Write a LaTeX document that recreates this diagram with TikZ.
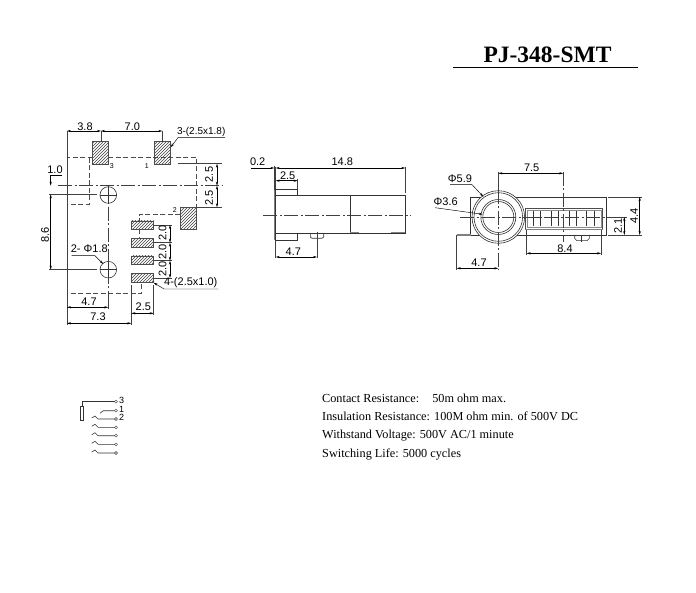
\documentclass[tikz,border=0pt]{standalone}
\usepackage{fontspec}
\setmainfont{Liberation Sans}
\newfontfamily\serifface{Liberation Serif}
\usetikzlibrary{arrows.meta,patterns}
\begin{document}
\begin{tikzpicture}[x=1pt,y=-1pt]
        \tikzstyle{dim}=[draw=black, line width=.45pt, {Stealth[length=4pt,width=2.2pt]}-{Stealth[length=4pt,width=2.2pt]}]
        \tikzstyle{lead}=[draw=black, line width=.45pt, -{Stealth[length=4pt,width=2.2pt]}]
        \tikzstyle{ext}=[draw=black!75, line width=.45pt]
        \tikzstyle{hid}=[draw=black!70, line width=.5pt, dash pattern=on 5pt off 2.5pt]
        \tikzstyle{axis}=[draw=black!75, line width=.5pt, dash pattern=on 14pt off 2.5pt on 2pt off 2.5pt]
        \tikzstyle{solid line}=[draw=black!80, line width=.6pt]
        \tikzstyle{heavy}=[draw=black!50, line width=1.4pt]
        \tikzstyle{padbox}=[draw=black!70, line width=.5pt, pattern=north east lines, pattern color=black!75]
        \tikzstyle{lbl}=[inner sep=0pt, font=\fontsize{11}{11}\selectfont]
        \tikzstyle{tiny}=[inner sep=0pt, font=\fontsize{7}{7}\selectfont]
        \tikzstyle{pinno}=[inner sep=0pt, font=\fontsize{9}{9}\selectfont]
        \tikzstyle{pin}=[draw=black!80, circle, inner sep=0pt, minimum width=3pt]
        \tikzstyle{spec}=[inner sep=0pt, anchor=base west, font=\serifface\fontsize{12.25}{12.25}\selectfont]

        \useasboundingbox (0,0) rectangle (696,593);

        % title
        \node[inner sep=0pt, font=\serifface\bfseries\fontsize{23.5}{23.5}\selectfont] (title) at (547.5,55) {PJ-348-SMT};
        \draw[black, line width=1.6pt] (453.3,67.7) -- (637.7,67.7);

        % left view: outline
        \draw[hid] (108,157.7) -- (196.7,157.7) -- (196.7,207.3);
        \draw[hid] (92.7,157.7) -- (67,157.7) -- (67,293.3) -- (141.7,293.3) -- (141.7,282.3);
        \draw[hid] (89.3,157.7) -- (89.3,204.3) -- (67,204.3);
        \draw[hid] (180.3,214.7) -- (139,214.7) -- (139,221);
        \draw[hid] (139,229.3) -- (139,238);
        \draw[axis] (58,185.7) -- (222,185.7);
        \draw[axis] (108.3,185.7) -- (108.3,293.3);

        % left view: pads
        \draw[padbox] (92.7,141.7) rectangle (108.7,164.3);
        \draw[padbox] (154.3,141.7) rectangle (170.3,164.3);
        \draw[padbox] (180.3,207.3) rectangle (196.7,229.7);
        \foreach \ytop in {221,238.5,256,273.7}
            \draw[padbox] (131.3,\ytop) rectangle (153.7,\ytop+8.6);
        \node[tiny] (padc) at (111.7,166) {3};
        \node[tiny] (pada) at (146.7,165.7) {1};
        \node[tiny] (padb) at (174.7,210) {2};

        % left view: holes
        \foreach \yc in {195,269.7} {
            \draw[solid line] (108.3,\yc) circle (8.3);
            \draw[solid line] (100,\yc) -- (116.6,\yc);
            \draw[solid line] (108.3,\yc-8.3) -- (108.3,\yc+8.3);
        }

        % left view: dimensions
        \draw[ext] (67,131) -- (67,325);
        \draw[ext] (101,131) -- (101,141.7);
        \draw[ext] (162.3,131) -- (162.3,141.7);
        \draw[dim] (67,131) -- (101,131);
        \draw[dim] (101,131) -- (162.3,131);
        \node[lbl] (topa) at (85,126.5) {3.8};
        \node[lbl] (topb) at (132.3,126.5) {7.0};
        \node[lbl, anchor=west, font=\fontsize{10}{10}\selectfont] (padnote) at (176.8,131.5) {3-(2.5x1.8)};
        \draw[lead] (225,137.3) -- (178.3,137.3) -- (170.7,147.3);

        \draw[ext] (178,163.7) -- (222,163.7);
        \draw[ext] (196.7,207.3) -- (222,207.3);
        \draw[dim] (217,163.7) -- (217,185.7);
        \draw[dim] (217,185.7) -- (217,207.3);
        \node[lbl, rotate=90] (sidea) at (209,174.5) {2.5};
        \node[lbl, rotate=90] (sideb) at (209,197.7) {2.5};

        \node[lbl] (holeoff) at (55,169.3) {1.0};
        \draw[lead] (62,175.7) -- (50.7,175.7) -- (50.7,185.7);
        \draw[ext] (49,194.3) -- (96.7,194.3);
        \draw[ext] (49,269.7) -- (96.7,269.7);
        \draw[dim] (50.7,194.3) -- (50.7,269.7);
        \node[lbl, rotate=90] (pitch) at (45,235) {8.6};

        \node[lbl] (holenote) at (89.3,249) {2- Φ1.8};
        \draw[lead] (71.7,255.7) -- (95,255.7) -- (103.3,264);

        \foreach \yline in {225,242.7,260.7,278}
            \draw[ext] (153.7,\yline) -- (171.7,\yline);
        \draw[dim] (170,225) -- (170,242.7);
        \draw[dim] (170,242.7) -- (170,260.7);
        \draw[dim] (170,260.7) -- (170,278);
        \node[lbl, rotate=90] (gapa) at (162.7,233.3) {2.0};
        \node[lbl, rotate=90] (gapb) at (162.7,251.7) {2.0};
        \node[lbl, rotate=90] (gapc) at (162.7,269) {2.0};
        \node[lbl, anchor=west] (smallnote) at (164,282.7) {4-(2.5x1.0)};
        \draw[lead] (218.3,289) -- (164,289) -- (153.7,282.7);

        \draw[ext] (108.3,293.3) -- (108.3,309);
        \draw[ext] (131.3,285) -- (131.3,325);
        \draw[ext] (153.7,285) -- (153.7,315);
        \draw[dim] (67,307.3) -- (108.3,307.3);
        \draw[dim] (67,323.3) -- (131.3,323.3);
        \draw[dim] (131.3,313.3) -- (153.7,313.3);
        \node[lbl] (lowa) at (89,301.5) {4.7};
        \node[lbl] (lowb) at (98,316.7) {7.3};
        \node[lbl] (lowc) at (143.3,306.7) {2.5};

        % middle view
        \draw[heavy] (274.8,190) -- (274.8,240);
        \draw[solid line] (275.7,195) rectangle (405.3,233.3);
        \draw[solid line] (275.7,195) -- (275.7,189.3) -- (297.7,189.3) -- (297.7,195);
        \draw[solid line] (275.7,233.3) -- (275.7,240.7) -- (297.7,240.7) -- (297.7,233.3);
        \draw[solid line] (350.3,195) -- (350.3,233.3);
        \draw[solid line] (310.3,233.3) -- (310.3,237) -- (312,238.3) -- (322,238.3) -- (323.7,237) -- (323.7,233.3);
        \draw[heavy] (350.3,232.4) -- (359.3,232.4);
        \draw[heavy] (390.7,232.4) -- (405.3,232.4);
        \draw[axis] (263.3,215.3) -- (411,215.3);

        \draw[ext] (275.7,166.7) -- (275.7,189.3);
        \draw[ext] (274.3,166) -- (274.3,190);
        \draw[ext] (405.3,166.7) -- (405.3,193);
        \draw[ext] (297.7,179) -- (297.7,189.3);
        \draw[dim] (275.7,168) -- (405.3,168);
        \draw[lead] (250.7,168) -- (274.3,168);
        \draw[dim] (275.7,180.7) -- (297.7,180.7);
        \node[lbl] (flange) at (257.7,162) {0.2};
        \node[lbl] (length) at (342.3,162) {14.8};
        \node[lbl] (tabw) at (287.7,175.3) {2.5};

        \draw[ext] (275.7,240.7) -- (275.7,258.5);
        \draw[ext] (317,232) -- (317,258.5);
        \draw[dim] (275.7,257) -- (317,257);
        \node[lbl] (bump) at (293.3,251.5) {4.7};

        % right view
        \draw[solid line] (470.7,235) -- (470.7,197) -- (606.3,197) -- (606.3,235) -- (470.7,235);
        \draw[heavy] (456.7,235) -- (470.7,235);
        \draw[solid line, fill=white] (498.3,217) circle (26.3);
        \draw[solid line] (498.3,217) circle (24.3);
        \draw[solid line] (498.3,217) circle (17.5);
        \draw[solid line] (498.3,217) circle (15.5);
        \draw[draw=black!70, line width=.5pt] (525.3,208.3) rectangle (602.7,229);
        \draw[draw=black!45, line width=.5pt] (527,210) rectangle (601,227.5);
        \draw[heavy] (525.3,229.8) -- (602.7,229.8);
        \foreach \xa/\xb in {533.3/540.7,551.7/558.3,569.3/576,586.7/594} {
            \draw[solid line] (\xa,211) -- (\xa,226);
            \draw[solid line] (\xb,211) -- (\xb,226);
            \draw[solid line] (\xa,217) -- (\xb,217);
        }
        \draw[solid line] (574.7,235) -- (574.7,238.5) -- (577,240.7) -- (587,240.7) -- (589.3,238.5) -- (589.3,235);
        \draw[solid line] (581.7,235) -- (581.7,242);
        \draw[axis] (460,217) -- (615,217);
        \draw[axis] (498.3,190) -- (498.3,270);
        \draw[axis] (563.3,171.7) -- (563.3,241.7);

        \draw[dim] (498.3,173.3) -- (563.3,173.3);
        \draw[ext] (498.3,171.7) -- (498.3,190);
        \node[lbl] (hdist) at (531.7,168) {7.5};
        \node[lbl] (outerd) at (460,179) {Φ5.9};
        \draw[lead] (450,184.3) -- (471.7,184.3) -- (483.3,196.7);
        \node[lbl] (innerd) at (445.7,201.5) {Φ3.6};
        \draw[lead] (435,207.7) -- (482.7,214.3);

        \draw[ext] (456.7,235) -- (456.7,270);
        \draw[dim] (456.7,268.3) -- (498.3,268.3);
        \node[lbl] (rlow) at (479,263) {4.7};
        \draw[ext] (526.7,230) -- (526.7,255);
        \draw[ext] (601,230) -- (601,255);
        \draw[dim] (526.7,253.3) -- (601,253.3);
        \node[lbl] (rwide) at (565,248.5) {8.4};

        \draw[ext] (608.3,197) -- (641.7,197);
        \draw[ext] (608.3,235) -- (641.7,235);
        \draw[ext] (615,217) -- (627,217);
        \draw[dim] (624.3,217) -- (624.3,235);
        \draw[dim] (639.7,197) -- (639.7,235);
        \node[lbl, rotate=90] (rlowh) at (618,225.7) {2.1};
        \node[lbl, rotate=90] (rhigh) at (634,215.7) {4.4};

        % circuit
        \draw[solid line] (80.7,406) rectangle (83.7,420.7);
        \draw[solid line] (82.2,406) -- (82.2,401.7) -- (114.5,401.7);
        \node[pin] (pina) at (116,401.7) {};
        \node[pinno] (numa) at (121.7,400) {3};
        \draw[solid line] (100,413.3) -- (103.3,410.7) -- (114.5,410.7);
        \node[pin] (pinb) at (116,410.7) {};
        \node[pinno] (numb) at (121.7,409) {1};
        \foreach \ypin in {419,427.3,435.7,444.3,453} {
            \draw[solid line] (91.7,\ypin-1) -- (95,\ypin-3) -- (98,\ypin) -- (114.5,\ypin);
            \node[pin] at (116,\ypin) {};
        }
        \node[pinno] (numc) at (121.7,417.7) {2};

        % specs
        \node[spec] (speca) at (322,402.5) {Contact Resistance:\hspace{9pt} 50m ohm max.};
        \node[spec] (specb) at (322,420.5) {Insulation Resistance: 100M ohm min. of 500V DC};
        \node[spec] (specc) at (322,438.5) {Withstand Voltage: 500V AC/1 minute};
        \node[spec] (specd) at (322,457) {Switching Life: 5000 cycles};
    \end{tikzpicture}
\end{document}
